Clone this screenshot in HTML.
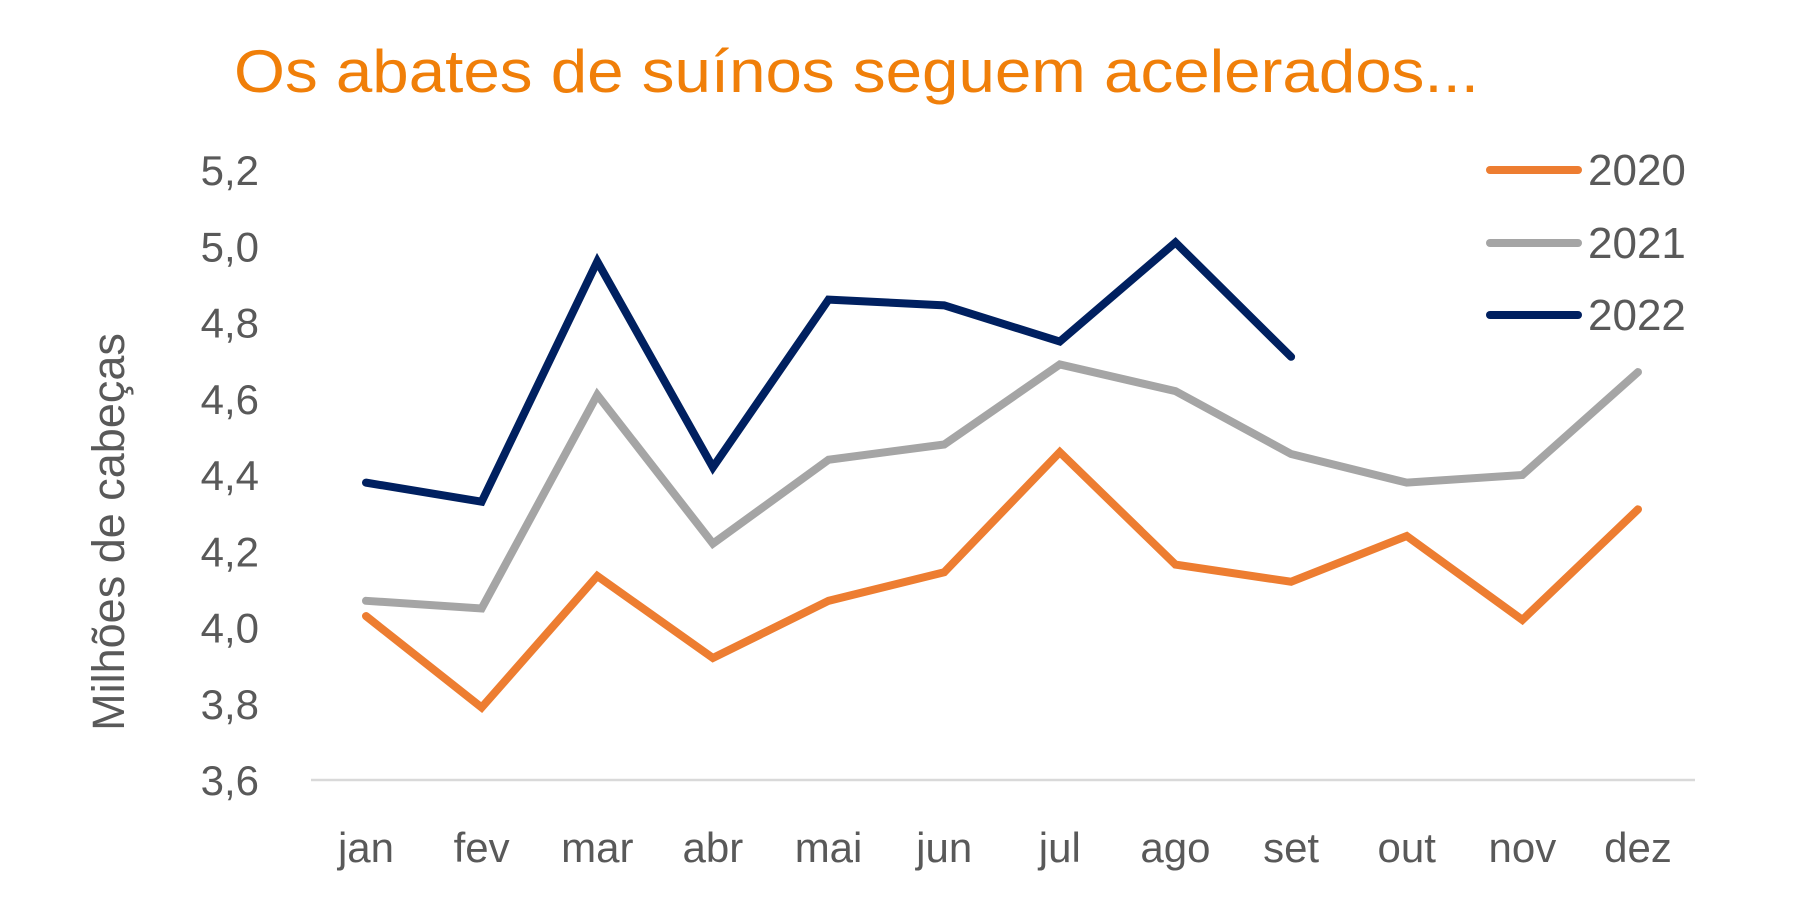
<!DOCTYPE html>
<html><head><meta charset="utf-8"><style>
html,body{margin:0;padding:0;background:#fff;}
svg{display:block;font-family:"Liberation Sans",sans-serif;}
</style></head><body>
<svg id="chart" width="1796" height="904" viewBox="0 0 1796 904" xmlns="http://www.w3.org/2000/svg">
<text x="234" y="92" font-size="60" fill="#F07F09" textLength="1245" lengthAdjust="spacingAndGlyphs">Os abates de suínos seguem acelerados...</text>
<text transform="translate(124,532) rotate(-90)" text-anchor="middle" font-size="45" fill="#595959">Milhões de cabeças</text>
<line x1="311" y1="780" x2="1695" y2="780" stroke="#D9D9D9" stroke-width="2.5"/>
<g id="yticks"></g><g id="xticks"></g><g id="series"></g><g id="legend"></g>
</svg>
<script>
const months = ["jan","fev","mar","abr","mai","jun","jul","ago","set","out","nov","dez"];
const yTickLabels = ["3,6","3,8","4,0","4,2","4,4","4,6","4,8","5,0","5,2"];
const yTickValues = [3.6,3.8,4.0,4.2,4.4,4.6,4.8,5.0,5.2];
const seriesNames = ["2020","2021","2022"];
const values2020 = [4.03,3.79,4.135,3.92,4.07,4.145,4.46,4.165,4.12,4.24,4.02,4.31];
const values2021 = [4.07,4.05,4.61,4.22,4.44,4.48,4.69,4.62,4.455,4.38,4.40,4.67];
const values2022 = [4.38,4.33,4.96,4.42,4.86,4.845,4.75,5.01,4.71];
const seriesColors = ["#ED7D31","#A5A5A5","#002060"];

const NS="http://www.w3.org/2000/svg";
const yMin=3.6,yMax=5.2,yTop=170,yBot=780;
const xFirst=366,xLast=1638;
function y(v){return yBot-(v-yMin)/(yMax-yMin)*(yBot-yTop);}
function x(i){return xFirst+i*(xLast-xFirst)/(months.length-1);}
function mk(tag,attrs,parent){const e=document.createElementNS(NS,tag);for(const k in attrs)e.setAttribute(k,attrs[k]);parent.appendChild(e);return e;}

const yt=document.getElementById('yticks');
yTickValues.forEach((v,i)=>{
  const t=mk('text',{x:259,y:y(v)+15,'text-anchor':'end','font-size':42,fill:'#595959'},yt);
  
  
  t.textContent=yTickLabels[i];
});
const xt=document.getElementById('xticks');
months.forEach((m,i)=>{
  const t=mk('text',{x:x(i),y:862,'text-anchor':'middle','font-size':42,fill:'#595959'},xt);
  
  
  t.textContent=m;
});
const sg=document.getElementById('series');
[values2020,values2021,values2022].forEach((vals,s)=>{
  const p=mk('polyline',{points:vals.map((v,i)=>x(i)+','+y(v)).join(' '),fill:'none',stroke:seriesColors[s],'stroke-width':8,'stroke-linejoin':'miter','stroke-linecap':'round'},sg);
  
  
});
const lg=document.getElementById('legend');
[170,243,315].forEach((ly,s)=>{
  const l=mk('line',{x1:1490,y1:ly,x2:1578,y2:ly,stroke:seriesColors[s],'stroke-width':8,'stroke-linecap':'round'},lg);
  
  
  const t=mk('text',{x:1588,y:ly+15,'font-size':44,fill:'#595959'},lg);
  
  
  t.textContent=seriesNames[s];
});
</script>
</body></html>
